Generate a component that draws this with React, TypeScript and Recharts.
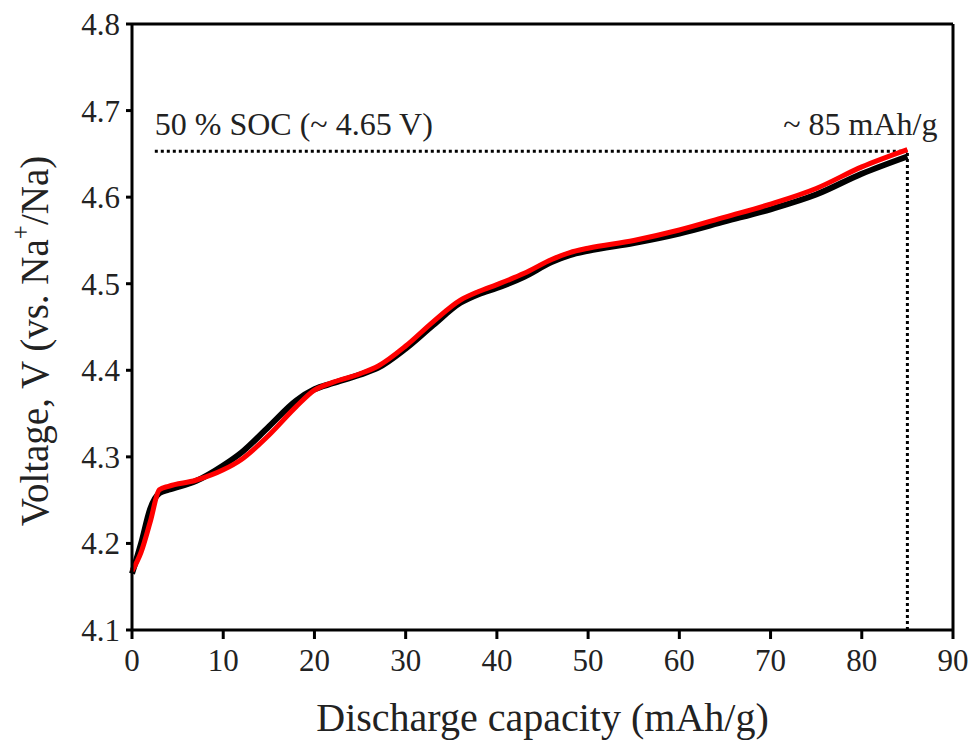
import React from 'react';
import {
  LineChart, Line, XAxis, YAxis, ReferenceLine, ReferenceDot,
} from 'recharts';

// discharge capacity (mAh/g)
const capacity = [0, 1, 2, 3, 4, 7, 10, 12, 15, 18, 20, 22, 25, 27, 30, 33, 36, 38, 40, 43, 46, 48, 50, 55, 60, 65, 70, 75, 80, 85];
// voltage of the black curve
const blackV = [4.165, 4.2, 4.24, 4.258, 4.262, 4.272, 4.29, 4.305, 4.335, 4.365, 4.378, 4.385, 4.395, 4.403, 4.425, 4.452, 4.478, 4.488, 4.495, 4.508, 4.525, 4.533, 4.538, 4.547, 4.558, 4.572, 4.586, 4.603, 4.627, 4.647];
// voltage of the red curve
const redV = [4.168, 4.19, 4.225, 4.262, 4.266, 4.273, 4.285, 4.297, 4.325, 4.358, 4.377, 4.386, 4.396, 4.405, 4.428, 4.456, 4.481, 4.491, 4.499, 4.512, 4.528, 4.536, 4.541, 4.55, 4.562, 4.577, 4.592, 4.61, 4.635, 4.655];

const xTicks = [0, 10, 20, 30, 40, 50, 60, 70, 80, 90];
const yTicks = [4.1, 4.2, 4.3, 4.4, 4.5, 4.6, 4.7, 4.8];

const data = capacity.map((c, i) => ({ c, black: blackV[i], red: redV[i] }));

const FONT = '"Liberation Serif", "Times New Roman", serif';
const TEXT = '#222';

const YTitle = (props: any) => {
  const { viewBox } = props;
  const cx = 34;
  const cy = viewBox.y + viewBox.height / 2 + 14;
  return (
    <text
      x={cx}
      y={cy}
      transform={`rotate(-90, ${cx}, ${cy})`}
      textAnchor="middle"
      dominantBaseline="central"
      fontFamily={FONT}
      fontSize={39}
      fill={TEXT}
    >
      Voltage, V (vs. Na
      <tspan dy={-14} fontSize={25}>+</tspan>
      <tspan dy={14}>/Na)</tspan>
    </text>
  );
};

const App: React.FC = () => {
  return (
    <div style={{ position: 'absolute', left: 0, top: 0, background: '#fff' }}>
      <LineChart
        width={974}
        height={741}
        data={data}
        margin={{ top: 24, right: 21, bottom: 0, left: 72 }}
      >
        <XAxis
          dataKey="c"
          type="number"
          domain={[0, 90]}
          ticks={xTicks}
          height={111}
          tickSize={9}
          tickMargin={10}
          stroke="#000"
          strokeWidth={3}
          tick={{ fontFamily: FONT, fontSize: 31, fill: TEXT }}
          label={{
            value: 'Discharge capacity (mAh/g)',
            position: 'insideBottom',
            offset: 10,
            style: { fontFamily: FONT, fontSize: 40, fill: TEXT },
          }}
        />
        <YAxis
          type="number"
          domain={[4.1, 4.8]}
          ticks={yTicks}
          width={60}
          tickSize={6}
          tickMargin={6}
          stroke="#000"
          strokeWidth={3}
          tickFormatter={(v: number) => v.toFixed(1)}
          tick={{ fontFamily: FONT, fontSize: 31, fill: TEXT }}
          label={<YTitle />}
        />
        <ReferenceLine y={4.8} stroke="#000" strokeWidth={3} />
        <ReferenceLine x={90} stroke="#000" strokeWidth={3} />
        <ReferenceLine
          segment={[{ x: 2.5, y: 4.653 }, { x: 85, y: 4.653 }]}
          stroke="#000"
          strokeWidth={3}
          strokeDasharray="3 3"
        />
        <ReferenceLine
          segment={[{ x: 85, y: 4.1 }, { x: 85, y: 4.653 }]}
          stroke="#000"
          strokeWidth={3}
          strokeDasharray="3 3"
        />
        <ReferenceDot
          x={2.5}
          y={4.685}
          r={0}
          fill="none"
          stroke="none"
          label={{
            value: '50 % SOC (~ 4.65 V)',
            position: 'right',
            offset: 0,
            style: { fontFamily: FONT, fontSize: 32, fill: TEXT },
          }}
        />
        <ReferenceDot
          x={88.3}
          y={4.685}
          r={0}
          fill="none"
          stroke="none"
          label={{
            value: '~ 85 mAh/g',
            position: 'left',
            offset: 0,
            style: { fontFamily: FONT, fontSize: 32, fill: TEXT },
          }}
        />
        <Line
          type="monotone"
          dataKey="black"
          stroke="#000"
          strokeWidth={6}
          dot={false}
          isAnimationActive={false}
        />
        <Line
          type="monotone"
          dataKey="red"
          stroke="#f00"
          strokeWidth={5}
          dot={false}
          isAnimationActive={false}
        />
      </LineChart>
    </div>
  );
};

export default App;
